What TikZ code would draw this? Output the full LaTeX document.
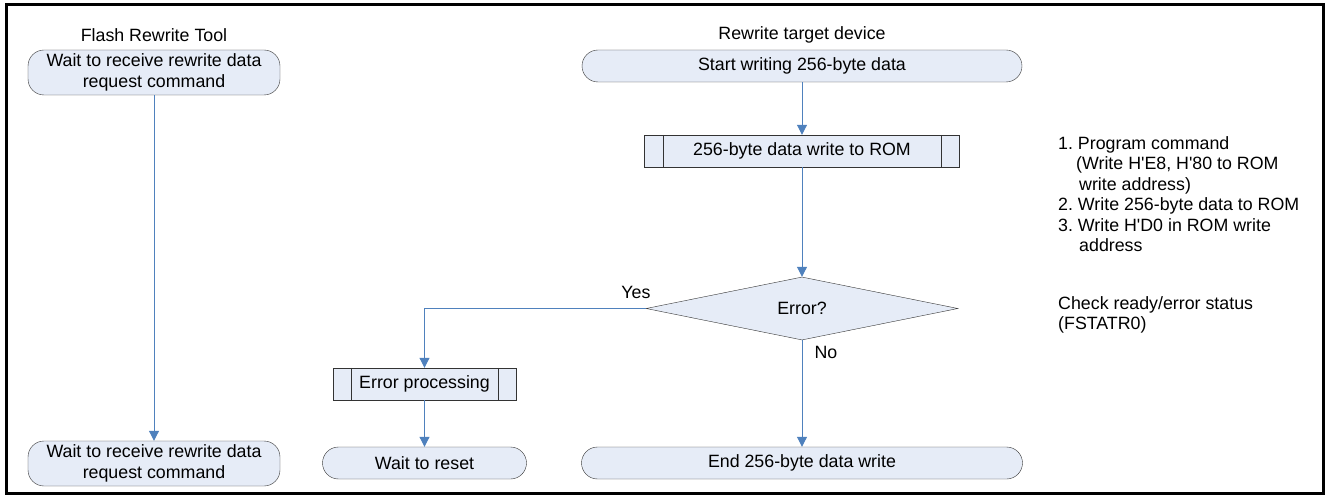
\documentclass[tikz,border=0pt]{standalone}
\usepackage{fontspec}
\setmainfont{Liberation Sans}
\usetikzlibrary{positioning}
\usetikzlibrary{shapes.geometric}
\usetikzlibrary{arrows.meta}
\definecolor{boxfill}{HTML}{E6ECF7}
\definecolor{flowblue}{HTML}{4F81BD}
\frenchspacing
\tikzset{
  term/.style={draw=black!80, fill=boxfill, rounded corners=16pt, minimum height=32pt, inner sep=2pt, align=center},
  subproc/.style={draw=black!80, fill=boxfill, minimum height=32pt, inner sep=2pt},
  decide/.style={diamond, draw=black!80, fill=boxfill, minimum width=312pt, minimum height=63pt, inner sep=0pt},
  flow/.style={->, draw=flowblue, line width=1pt},
  note/.style={anchor=north west, align=left, inner sep=0pt}
}

\begin{document}
\begin{tikzpicture}[x=1pt, y=-1pt, font=\fontsize{17.8}{20.5}\selectfont, >={Triangle[length=10pt,width=10pt]}]
            \useasboundingbox (0,0) rectangle (1326,497);
            \draw[line width=3pt] (6,5) rectangle (1323,493);
            % lane titles
            \node (tooltitle) at (154,35) {Flash Rewrite Tool};
            \node (devtitle) at (802,35) {Rewrite target device};
            % flash rewrite tool
            \node[term, minimum width=252pt, minimum height=45pt] (waitA) at (154,72.5) {Wait to receive rewrite data\\request command};
            \node[term, minimum width=252pt, minimum height=45pt] (waitB) at (154,463.5) {Wait to receive rewrite data\\request command};
            \draw[flow] (waitA) -- (waitB);
            % rewrite target device
            \node[term, minimum width=440pt] (start) at (802,66) {Start writing 256-byte data};
            \node[subproc, minimum width=315pt] (romwrite) at (802,151) {256-byte data write to ROM};
            \node[decide] (err) at (802,308.5) {Error?};
            \node[subproc, minimum width=183pt] (errproc) at (424.5,384) {Error processing};
            \node[term, minimum width=204pt] (reset) at (424.5,463) {Wait to reset};
            \node[term, minimum width=441pt] (done) at (802,463) {End 256-byte data write};
            \foreach \b in {romwrite,errproc} {
                \draw[black!80] ([xshift=18.5pt]\b.north west) -- ([xshift=18.5pt]\b.south west);
                \draw[black!80] ([xshift=-18.5pt]\b.north east) -- ([xshift=-18.5pt]\b.south east);
            }
            \draw[flow] (start) -- (romwrite);
            \draw[flow] (romwrite) -- (err);
            \draw[flow] (err.west) -| (errproc.north);
            \draw[flow] (err.south) -- (done);
            \draw[flow] (errproc) -- (reset);
            \node (yes) at (636,292) {Yes};
            \node (no) at (826,352) {No};
            % notes
            \node[note] (steps) at (1058,136) {1. Program command\\
                \hspace*{18pt}(Write H\textquotesingle E8, H\textquotesingle 80 to ROM\\
                \hspace*{21pt}write address)\\
                2. Write 256-byte data to ROM\\
                3. Write H\textquotesingle D0 in ROM write\\
                \hspace*{21pt}address};
            \node[note] (status) at (1058,296) {Check ready/error status\\(FSTATR0)};
        \end{tikzpicture}
\end{document}
